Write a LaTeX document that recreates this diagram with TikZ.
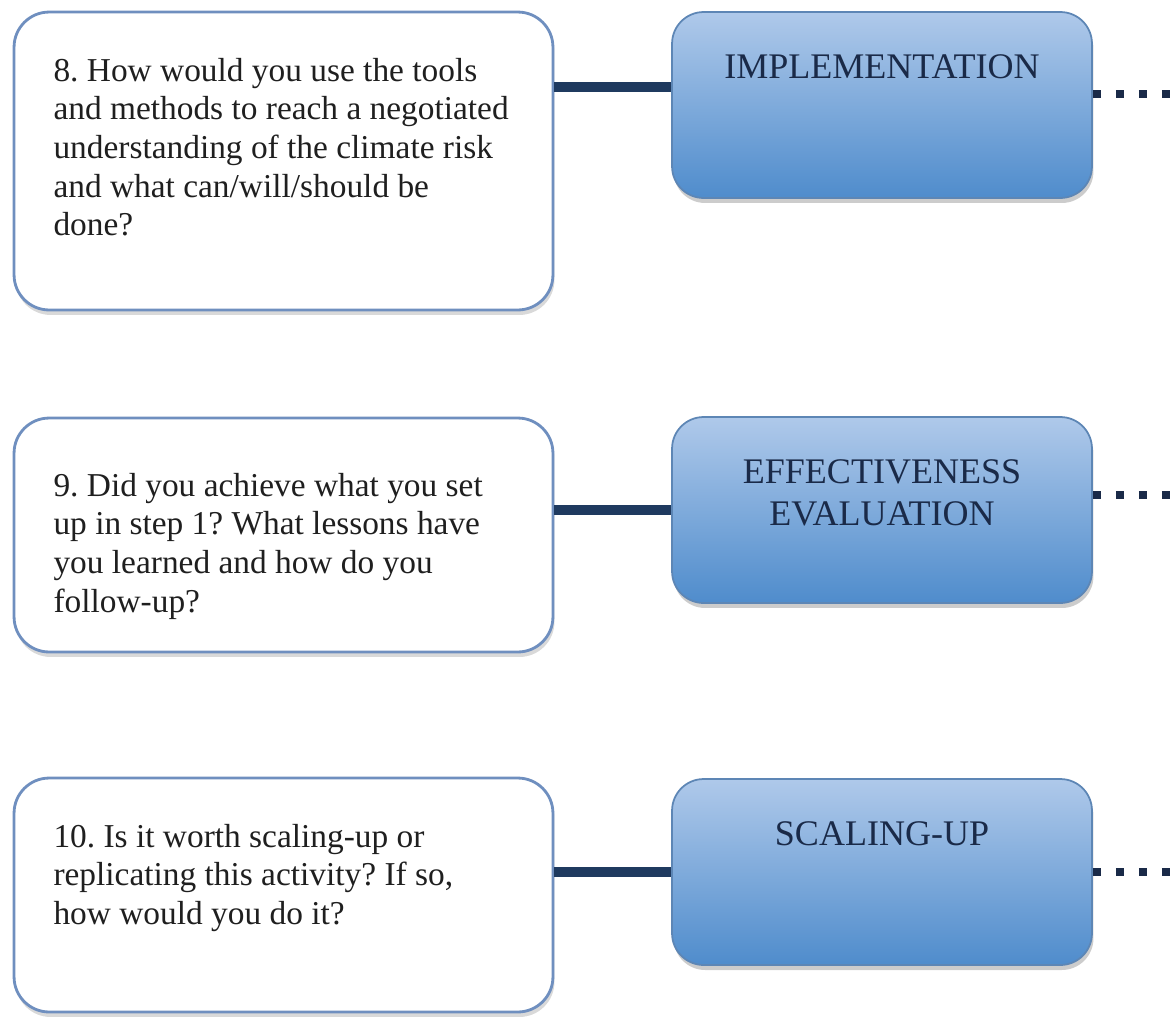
\documentclass[tikz,border=0pt]{standalone}
\usepackage{fontspec}
\setmainfont{Liberation Serif}
\usetikzlibrary{positioning,shadows,calc}
\definecolor{frame}   {HTML}{6F8FBF}
\definecolor{navy}    {HTML}{1F3A5F}
\definecolor{skytop}  {HTML}{AFC9EA}
\definecolor{skybot}  {HTML}{4F8CCC}
\definecolor{skyedge} {HTML}{5D86B5}
\definecolor{deepink} {HTML}{1A2A48}
\frenchspacing
\tikzset{
  % --- nodes
  qbox/.style  = {rounded corners=20pt, draw=frame, line width=1.6pt, fill=white,
                  inner sep=0pt, minimum width=10.78cm, text=black!88,
                  drop shadow={shadow xshift=0.03cm, shadow yshift=-0.1cm, opacity=0.3}},
  stage/.style = {rounded corners=18pt, draw=skyedge, line width=1pt,
                  top color=skytop, bottom color=skybot, inner sep=0pt,
                  minimum width=8.4cm, minimum height=3.72cm, text=deepink,
                  drop shadow={shadow xshift=0.03cm, shadow yshift=-0.1cm, opacity=0.4}},
  % --- edges
  link/.style  = {line width=0.2cm, draw=navy},
  trail/.style = {line width=0.16cm, draw=deepink, dash pattern=on 0.16cm off 0.3cm},
}
\newcommand{\qtext}[2]{\parbox[c][#1][t]{9.2cm}{\raggedright\fontsize{19}{22}\selectfont #2}}
\newcommand{\stagetext}[1]{\parbox[c][2.0cm][t]{8cm}{\centering\fontsize{20.5}{23.5}\selectfont #1}}

\begin{document}
\begin{tikzpicture}[x=0.02cm,y=-0.02cm]
  \useasboundingbox (0,0) rectangle (1176,1022);
  % questions
  \node[qbox, minimum height=5.96cm] (q8) at (283.5,161)
    {\qtext{4.12cm}{8. How would you use the tools\\and methods to reach a negotiated\\understanding of the climate risk\\and what can/will/should be\\done?}};
  \node[qbox, minimum height=4.68cm] (q9) at (283.5,535)
    {\qtext{2.48cm}{9. Did you achieve what you set\\up in step 1? What lessons have\\you learned and how do you\\follow-up?}};
  \node[qbox, minimum height=4.68cm] (q10) at (283.5,895)
    {\qtext{2.84cm}{10. Is it worth scaling-up or\\replicating this activity? If so,\\how would you do it?}};
  % stages
  \node[stage] (impl) at (882,105) {\stagetext{IMPLEMENTATION}};
  \node[stage] (eff)  at (882,510) {\stagetext{EFFECTIVENESS\\EVALUATION}};
  \node[stage] (scal) at (882,872) {\stagetext{SCALING-UP}};
  \coordinate (t8)  at (impl.3 -| 1180,0);
  \coordinate (t9)  at (eff.4 -| 1180,0);
  \coordinate (t10) at (scal.east -| 1180,0);
  \draw[link] (q8.east |- impl.175) -- (impl.175);
  \draw[link] (q9.east |- eff.west) -- (eff.west);
  \draw[link] (q10.east |- scal.west) -- (scal.west);
  \draw[trail] (impl.3) -- (t8);
  \draw[trail] (eff.4) -- (t9);
  \draw[trail] (scal.east) -- (t10);
\end{tikzpicture}
\end{document}
